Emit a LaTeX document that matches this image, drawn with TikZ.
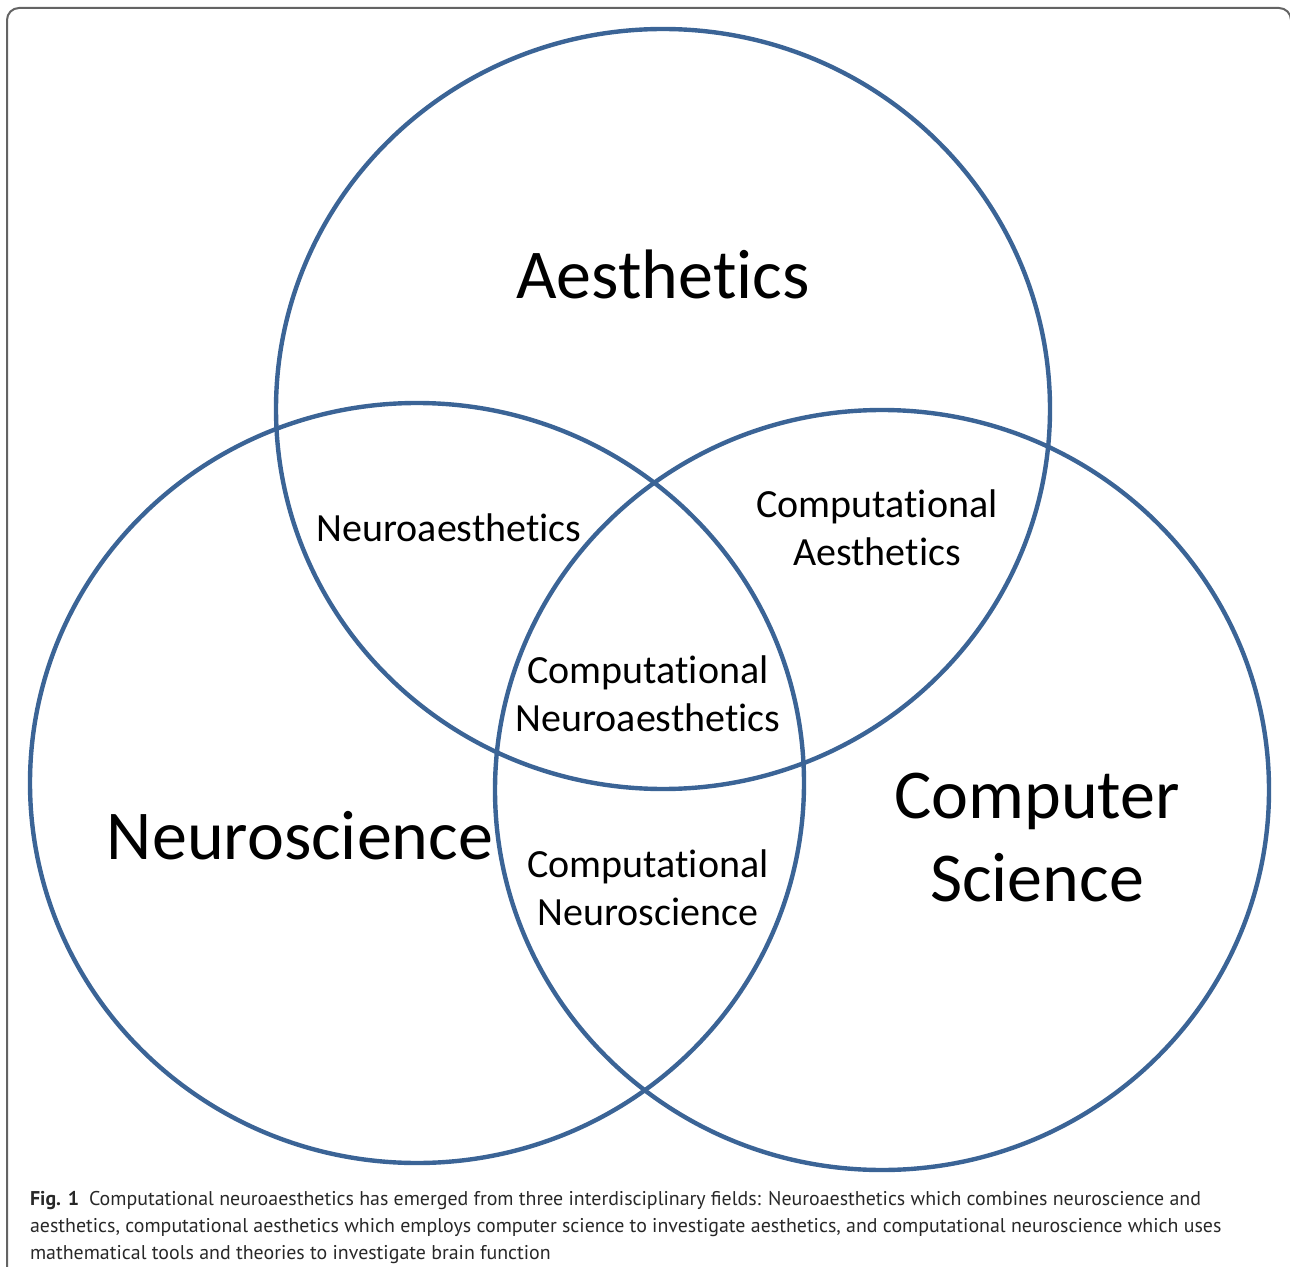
\documentclass[tikz,border=0pt]{standalone}
\usepackage{fontspec}
\setmainfont{Carlito}[Ligatures=NoCommon]
\newfontfamily\capfont{PT Sans}
\usetikzlibrary{positioning,shapes.geometric}
\definecolor{vennblue}{RGB}{59,100,150}
\definecolor{framegray}{RGB}{100,100,100}
\definecolor{captext}{RGB}{40,40,40}

\begin{document}
\begin{tikzpicture}[x=0.5pt, y=-0.5pt,
    field/.style = {ellipse, draw=vennblue, line width=2.2pt, minimum width=387pt, minimum height=380pt, inner sep=0pt},
    bigfield/.style = {align=center, font=\fontsize{35}{41.5}\selectfont},
    overlap/.style = {align=center, font=\fontsize{20}{24}\selectfont}]
  \useasboundingbox (0,0) rectangle (1290,1267);
  \begin{scope}
    \clip (0,0) rectangle (1290,1267);
    \draw[framegray, line width=1pt, rounded corners=6pt] (7,8) rectangle (1291,1300);
  \end{scope}
  % the three fields
  \node[field] (aes) at (663,409) {};
  \node[field] (neu) at (417,783) {};
  \node[field] (cs) at (882,790) {};
  \node[bigfield] (aeslabel) at (663,274) {Aesthetics};
  \node[bigfield] (neulabel) at (300,836) {Neuroscience};
  \node[bigfield] (cslabel) at (1037,838) {Computer\\Science};
  % the overlaps
  \node[overlap] (na) at (449,528) {Neuroaesthetics};
  \node[overlap] (ca) at (877,528) {Computational\\Aesthetics};
  \node[overlap] (cna) at (648,694) {Computational\\Neuroaesthetics};
  \node[overlap] (cn) at (648,888) {Computational\\Neuroscience};
  % caption
  \node[anchor=north west, align=left, text=captext,
        font=\capfont\fontsize{9.95}{13.5}\selectfont] (caption) at (23,1184)
    {\textbf{Fig. 1}\enspace Computational neuroaesthetics has emerged from three interdisciplinary fields: Neuroaesthetics which combines neuroscience and\\
     aesthetics, computational aesthetics which employs computer science to investigate aesthetics, and computational neuroscience which uses\\
     mathematical tools and theories to investigate brain function};
\end{tikzpicture}
\end{document}
